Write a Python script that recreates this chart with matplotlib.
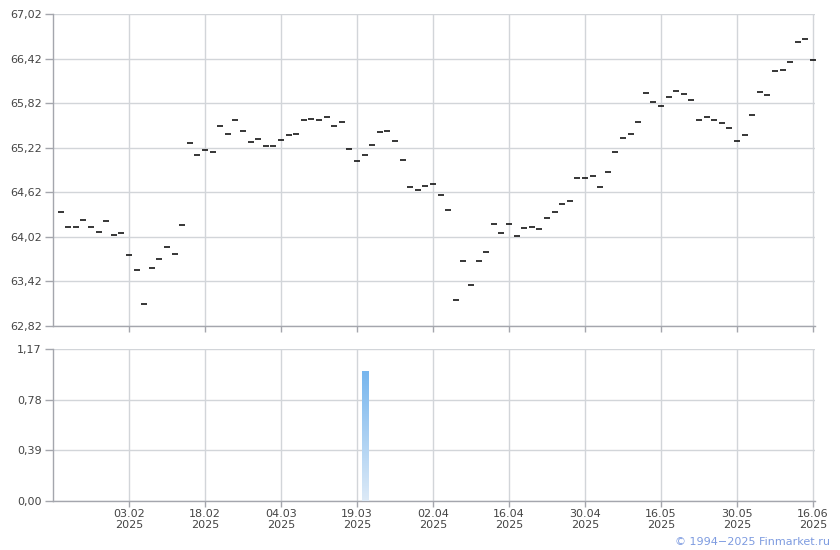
import numpy as np
import matplotlib
matplotlib.use("Agg")
import matplotlib.pyplot as plt

# ---- data ----
prices = [
    64.36, 64.15, 64.15, 64.25, 64.15, 64.09, 64.23, 64.04, 64.07, 63.77,
    63.58, 63.11, 63.60, 63.72, 63.88, 63.79, 64.18, 65.28, 65.12, 65.19,
    65.16, 65.51, 65.40, 65.59, 65.45, 65.30, 65.34, 65.24, 65.24, 65.33,
    65.39, 65.40, 65.59, 65.60, 65.59, 65.64, 65.51, 65.56, 65.20, 65.04,
    65.12, 65.25, 65.43, 65.44, 65.31, 65.05, 64.69, 64.65, 64.70, 64.73,
    64.58, 64.38, 63.17, 63.69, 63.37, 63.69, 63.81, 64.19, 64.07, 64.19,
    64.03, 64.14, 64.15, 64.12, 64.28, 64.36, 64.46, 64.50, 64.81, 64.81,
    64.84, 64.69, 64.89, 65.16, 65.35, 65.41, 65.56, 65.95, 65.83, 65.78,
    65.90, 65.99, 65.94, 65.86, 65.59, 65.63, 65.59, 65.55, 65.49, 65.31,
    65.39, 65.66, 65.97, 65.93, 66.25, 66.26, 66.37, 66.64, 66.68, 66.40,
]
volume_index = [41]
volume_values = [1.0]
tick_labels = ["03.02\n2025", "18.02\n2025", "04.03\n2025", "19.03\n2025",
               "02.04\n2025", "16.04\n2025", "30.04\n2025", "16.05\n2025",
               "30.05\n2025", "16.06\n2025"]
price_ticks = [62.82, 63.42, 64.02, 64.62, 65.22, 65.82, 66.42, 67.02]
vol_ticks = [0.00, 0.39, 0.78, 1.17]

x = np.arange(1, len(prices) + 1)
tick_pos = np.arange(10, 10 * len(tick_labels) + 1, 10)

grid_c = "#d2d5d9"
axis_c = "#a4a6ad"
text_c = "#444444"

fig = plt.figure(figsize=(8.4, 5.5), dpi=100)
W, H = 840, 550
left = 53 / W
right = 815 / W
ax1 = fig.add_axes([left, 1 - 326 / H, right - left, (326 - 14) / H])
ax2 = fig.add_axes([left, 1 - 501 / H, right - left, (501 - 349) / H])

xlim = (0, 100.26)

def fmt(v):
    return f"{v:.2f}".replace(".", ",")

for ax, yt in ((ax1, price_ticks), (ax2, vol_ticks)):
    ax.set_xlim(*xlim)
    ax.set_ylim(yt[0], yt[-1])
    ax.set_yticks(yt)
    ax.set_yticklabels([fmt(v) for v in yt])
    ax.set_xticks(tick_pos)
    for s in ("top", "right"):
        ax.spines[s].set_visible(False)
    for s in ("left", "bottom"):
        ax.spines[s].set_color(axis_c)
        ax.spines[s].set_linewidth(1)
    ax.grid(True, color=grid_c, linewidth=1)
    ax.set_axisbelow(True)
    ax.tick_params(axis="y", length=6, width=1, color=axis_c, pad=2,
                   labelsize=8, labelcolor=text_c)
    ax.tick_params(axis="x", length=4, width=1, color=axis_c, pad=2,
                   labelsize=8, labelcolor=text_c)

ax1.set_xticklabels([])
ax2.set_xticklabels(tick_labels, linespacing=1.1)

# price dashes
ax1.plot(x, prices, linestyle="none", marker="_", markersize=4,
         markeredgewidth=1.1, color="black", zorder=3)

# volume bar with vertical gradient
bars = ax2.bar(volume_index, volume_values, width=0.8, color="none",
               edgecolor="none", zorder=3)
cmap = matplotlib.colors.LinearSegmentedColormap.from_list(
    "g", ["#ddeaf7", "#77b6ee"])
grad = np.linspace(0, 1, 256).reshape(-1, 1)
for b in bars:
    x0, y0 = b.get_x(), b.get_y()
    w, h = b.get_width(), b.get_height()
    im = ax2.imshow(grad, extent=(x0, x0 + w, y0, y0 + h), origin="lower",
                    cmap=cmap, aspect="auto", zorder=3)
    im.set_clip_path(b)
ax2.set_xlim(*xlim)
ax2.set_ylim(vol_ticks[0], vol_ticks[-1])

fig.text(830 / W, 1 - 542 / H, "© 1994\u22122025 Finmarket.ru", ha="right",
         va="center", fontsize=8, color="#7d9be0")

fig.savefig("out.png", dpi=100)
